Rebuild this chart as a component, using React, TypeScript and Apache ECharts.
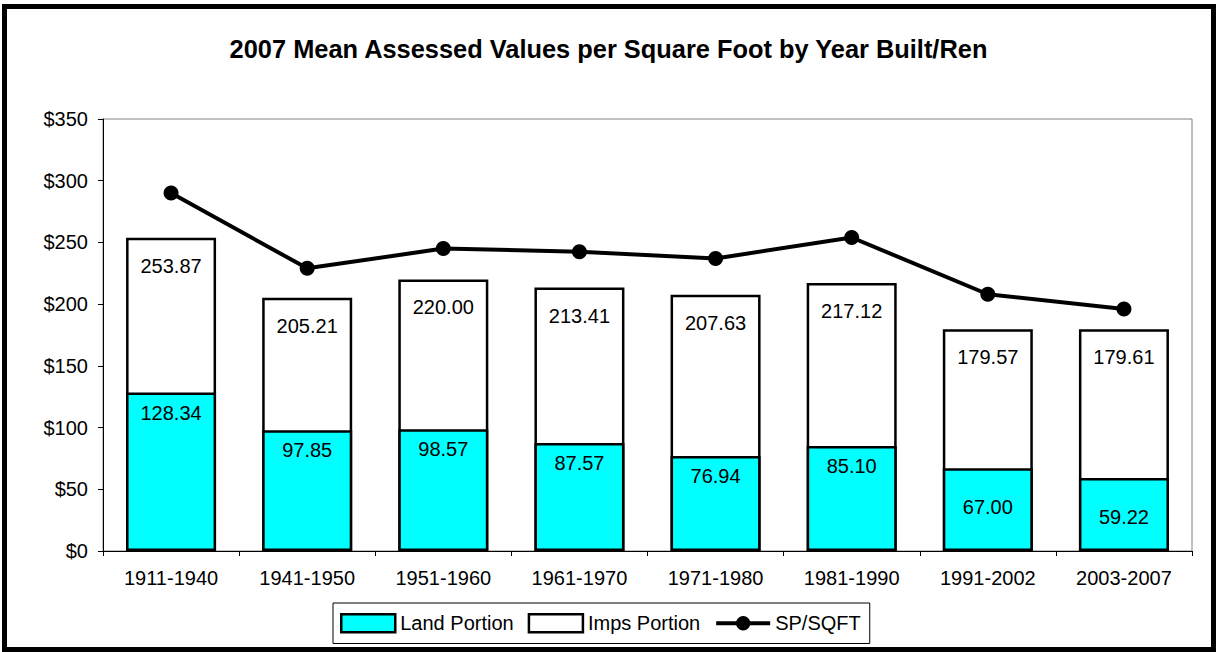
import React, { useEffect, useRef } from "react";
import * as echarts from "echarts";

const categories = ["1911-1940", "1941-1950", "1951-1960", "1961-1970", "1971-1980", "1981-1990", "1991-2002", "2003-2007"];
const landPortion = [128.34, 97.85, 98.57, 87.57, 76.94, 85.1, 67.0, 59.22];
const totalValue = [253.87, 205.21, 220.0, 213.41, 207.63, 217.12, 179.57, 179.61];
const spSqft = [290, 229, 245, 242.5, 237, 254, 208, 196];
const yTicks = [0, 50, 100, 150, 200, 250, 300, 350];

const FONT = "'Liberation Sans', Arial, sans-serif";

export default function App() {
  const ref = useRef<HTMLDivElement>(null);
  useEffect(() => {
    if (!ref.current) return;
    const chart = echarts.init(ref.current, null, { renderer: "svg" });
    const landData = landPortion.map((v, i) => ({
      value: v,
      label: { distance: i >= 6 ? 29 : 10 },
    }));
    chart.setOption({
      animation: false,
      backgroundColor: "#ffffff",
      textStyle: { fontFamily: FONT },
      title: {
        text: "2007 Mean Assessed Values per Square Foot by Year Built/Ren",
        left: "center",
        top: 31,
        textStyle: { fontFamily: FONT, fontSize: 25.4, fontWeight: "bold", color: "#000" },
      },
      graphic: [
        {
          type: "rect",
          shape: { x: 4.5, y: 6.5, width: 1209, height: 643 },
          style: { fill: "none", stroke: "#000", lineWidth: 5 },
          silent: true,
        },
      ],
      grid: {
        left: 103,
        top: 119,
        right: 25,
        bottom: 101,
        show: true,
        borderColor: "#808080",
        borderWidth: 1,
        containLabel: false,
      },
      legend: {
        data: [
          { name: "Land Portion", icon: "rect", itemStyle: { borderWidth: 2.5, borderColor: "#000" } },
          { name: "Imps Portion", icon: "rect", itemStyle: { borderWidth: 2.5, borderColor: "#000" } },
          { name: "SP/SQFT", lineStyle: { width: 4 } },
        ],
        left: 333,
        top: 603,
        itemWidth: 54,
        itemHeight: 18,
        itemGap: 14,
        padding: [10, 9, 10, 7],
        borderColor: "#000",
        borderWidth: 1,
        textStyle: { fontFamily: FONT, fontSize: 20, color: "#000" },
      },
      xAxis: {
        type: "category",
        data: categories,
        axisLine: { lineStyle: { color: "#000", width: 1 } },
        axisTick: { show: true, length: 5, lineStyle: { color: "#000" } },
        axisLabel: { fontFamily: FONT, fontSize: 20, color: "#000", margin: 17 },
      },
      yAxis: {
        type: "value",
        min: yTicks[0],
        max: yTicks[yTicks.length - 1],
        interval: 50,
        axisLine: { show: true, lineStyle: { color: "#000", width: 1 } },
        axisTick: { show: true, length: 5, lineStyle: { color: "#000" } },
        splitLine: { show: false },
        axisLabel: {
          fontFamily: FONT,
          fontSize: 20,
          color: "#000",
          margin: 15,
          formatter: (v: number) => "$" + v,
        },
      },
      series: [
        {
          name: "Imps Portion",
          type: "bar",
          data: totalValue,
          barWidth: 90,
          barGap: "-100%",
          itemStyle: { color: "#ffffff", borderColor: "#000", borderWidth: 2.5 },
          label: {
            show: true,
            position: "insideTop",
            distance: 18,
            fontFamily: FONT,
            fontSize: 20,
            color: "#000",
            formatter: (p: any) => Number(p.value).toFixed(2),
          },
          z: 2,
        },
        {
          name: "Land Portion",
          type: "bar",
          data: landData,
          barWidth: 90,
          barGap: "-100%",
          itemStyle: { color: "#00ffff", borderColor: "#000", borderWidth: 2.5 },
          label: {
            show: true,
            position: "insideTop",
            fontFamily: FONT,
            fontSize: 20,
            color: "#000",
            formatter: (p: any) => Number(p.value).toFixed(2),
          },
          z: 3,
        },
        {
          name: "SP/SQFT",
          type: "line",
          data: spSqft,
          symbol: "circle",
          symbolSize: 15,
          lineStyle: { color: "#000", width: 4 },
          itemStyle: { color: "#000" },
          z: 5,
        },
      ],
    });
    return () => chart.dispose();
  }, []);
  return (
    <div
      ref={ref}
      style={{ position: "absolute", left: 0, top: 0, width: 1217, height: 652 }}
    />
  );
}
